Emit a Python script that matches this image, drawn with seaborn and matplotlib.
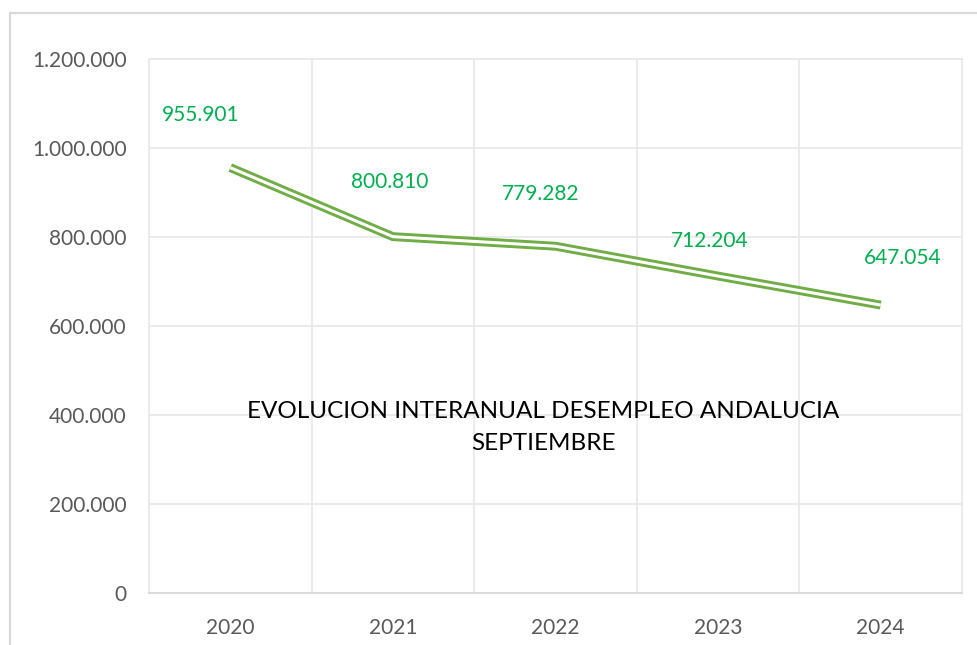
import seaborn as sns
import matplotlib.pyplot as plt
import matplotlib.patheffects as pe
from matplotlib.patches import Rectangle
from matplotlib.ticker import FuncFormatter, MultipleLocator
import pandas as pd

# data
years = ['2020', '2021', '2022', '2023', '2024']
paro = [955901, 800810, 779282, 712204, 647054]
# hand-placed data labels (offset in categories, offset in people)
lbl_dx = [-0.18, -0.02, -0.09, -0.05, 0.135]
lbl_dy = [118000, 123000, 117000, 79000, 106000]

df = pd.DataFrame({'x': range(len(years)), 'paro': paro})

sns.set_style('white')
plt.rcParams['font.family'] = ['Lato', 'DejaVu Sans']

line_green = '#70AD47'
label_green = '#00B050'
grid_col = '#E9E9E9'
tick_col = '#595959'

fig = plt.figure(figsize=(9.78, 6.45), dpi=100)
ax = fig.add_axes([149 / 978, 1 - 593 / 645, (962 - 149) / 978, (593 - 59) / 645])

# chart border (cut by the screenshot at right and bottom)
fig.add_artist(Rectangle((10 / 978, -0.1), 1.2, 1.1 - 13 / 645,
                         transform=fig.transFigure, fill=False,
                         edgecolor='#D9D9D9', linewidth=1.6, zorder=0))

# double (compound) line: green stroke with white core, open ends
sns.lineplot(data=df, x='x', y='paro', ax=ax, color='white', linewidth=2.2,
             solid_capstyle='butt', solid_joinstyle='miter',
             path_effects=[pe.Stroke(linewidth=6.4, foreground=line_green,
                                     capstyle='butt', joinstyle='miter'),
                           pe.Normal()],
             zorder=3)

for i, v in enumerate(paro):
    txt = f'{v:,}'.replace(',', '.')
    ax.text(i + lbl_dx[i], v + lbl_dy[i], txt, color=label_green,
            fontsize=15, ha='center', va='center')

ax.set_xlim(-0.5, len(years) - 0.5)
ax.set_ylim(0, 1200000)
ax.yaxis.set_major_locator(MultipleLocator(200000))
ax.yaxis.set_major_formatter(FuncFormatter(lambda v, p: f'{int(v):,}'.replace(',', '.')))
ax.set_xticks(range(len(years)))
ax.set_xticklabels(years)
ax.set_xticks([i + 0.5 for i in range(len(years) - 1)], minor=True)

ax.grid(True, which='major', axis='y', color=grid_col, linewidth=1.3)
ax.grid(True, which='minor', axis='x', color=grid_col, linewidth=1.3)
ax.grid(False, which='major', axis='x')
for s in ax.spines.values():
    s.set_color(grid_col)
    s.set_linewidth(1.3)
ax.spines['bottom'].set_color('#D9D9D9')

ax.tick_params(axis='both', which='both', length=0, labelsize=15, colors=tick_col)
ax.tick_params(axis='x', pad=18)
ax.tick_params(axis='y', pad=16)
ax.set_xlabel('')
ax.set_ylabel('')

ax.text(0.485, 0.31, 'EVOLUCION INTERANUAL DESEMPLEO ANDALUCIA\nSEPTIEMBRE',
        transform=ax.transAxes, ha='center', va='center', fontsize=17.5,
        color='black', linespacing=1.65)

plt.savefig('out.png', dpi=100)
